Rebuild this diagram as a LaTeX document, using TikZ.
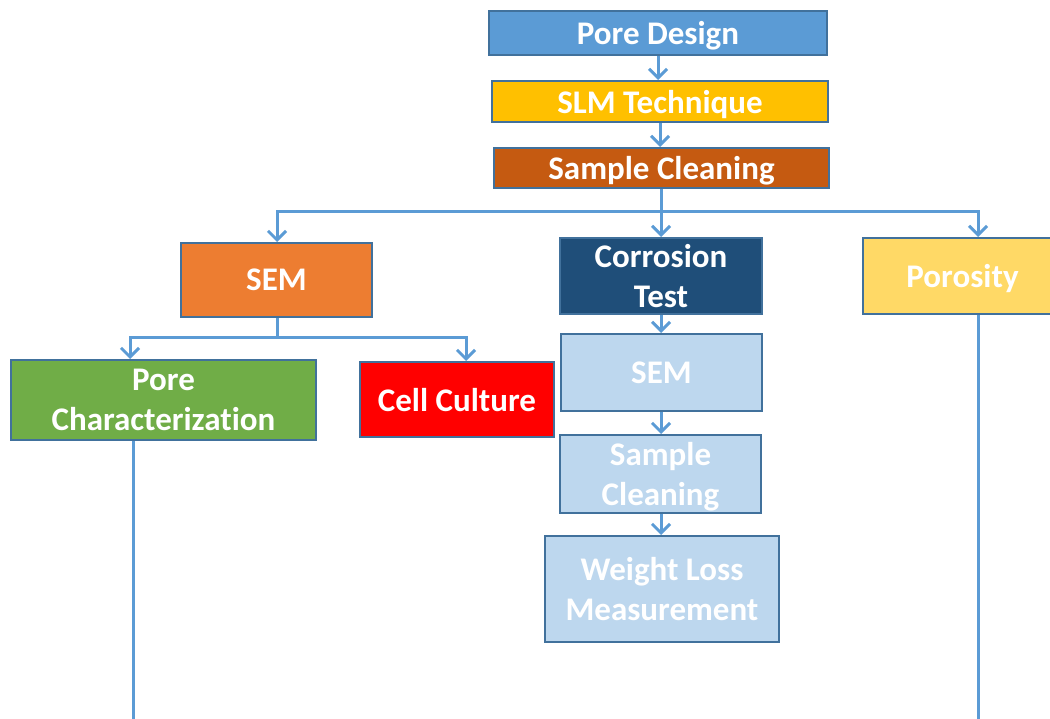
\documentclass[tikz,border=0pt]{standalone}
\usepackage{fontspec}
\setmainfont{Carlito}[Ligatures=NoCommon]
\usetikzlibrary{arrows.meta}
\definecolor{lnblue}{HTML}{5B9BD5}
\definecolor{bdblue}{HTML}{41719C}
\definecolor{cpd}{HTML}{5B9BD5}
\definecolor{cslm}{HTML}{FFC000}
\definecolor{csc}{HTML}{C55A11}
\definecolor{csem}{HTML}{ED7D31}
\definecolor{cct}{HTML}{1F4E79}
\definecolor{cpor}{HTML}{FFD966}
\definecolor{cpc}{HTML}{70AD47}
\definecolor{ccc}{HTML}{FF0000}
\definecolor{clb}{HTML}{BDD7EE}
\tikzset{
  box/.style={draw=bdblue, line width=2pt, text=white, align=center,
    font=\fontsize{33}{40}\selectfont\bfseries, inner sep=0pt},
  one/.style={text depth=0pt},
  conn/.style={draw=lnblue, line width=3pt},
  arr/.style={conn, -{Straight Barb[length=9pt,width=18pt,line width=3pt]}}
}
\begin{document}
\begin{tikzpicture}[x=1pt,y=-1pt]
\useasboundingbox (0,0) rectangle (1050,719);
\node[box, one, fill=cpd, minimum width=338pt, minimum height=44pt] (pd) at (658,33) {Pore Design};
\node[box, one, fill=cslm, minimum width=336pt, minimum height=41pt] (slm) at (660,101.5) {SLM Technique};
\node[box, one, fill=csc, minimum width=335pt, minimum height=40pt] (sc) at (661.5,168) {Sample Cleaning};
\node[box, one, fill=csem, minimum width=191pt, minimum height=74pt] (sem) at (276.5,280) {SEM};
\node[box, fill=cct, minimum width=202pt, minimum height=76pt] (ct) at (661,276) {Corrosion\\Test};
\node[box, one, fill=cpor, minimum width=199pt, minimum height=76pt] (por) at (962.5,276) {Porosity};
\node[box, fill=cpc, minimum width=305pt, minimum height=80pt] (pc) at (163.5,400) {Pore\\Characterization};
\node[box, one, fill=ccc, minimum width=194pt, minimum height=75pt] (cc) at (457,399.5) {Cell Culture};
\node[box, one, fill=clb, minimum width=201pt, minimum height=77pt] (sem2) at (661.5,372.5) {SEM};
\node[box, one, fill=clb, minimum width=201pt, minimum height=78pt] (sc2) at (660.5,474) {Sample\\Cleaning};
\node[box, fill=clb, minimum width=234pt, minimum height=106pt] (wl) at (662,589) {Weight Loss\\Measurement};
% top chain
\draw[arr] (pd.south) -- (pd.south |- slm.north);
\draw[arr] (slm.south) -- (slm.south |- sc.north);
% first branching
\coordinate (br) at (661,212);
\draw[arr] (sc.south -| br) -- (ct.north);
\draw[conn] (br) -- (277,212);
\draw[arr] (br) -| ([xshift=0.5pt]sem.north);
\draw[arr] (br) -| ([xshift=15.5pt]por.north);
% second branching
\coordinate (sb) at (277,338);
\draw[conn] ([xshift=0.5pt]sem.south) -- (sb);
\draw[arr] (sb) -| ([xshift=-33.5pt]pc.north);
\draw[arr] (sb) -| ([xshift=9pt]cc.north);
% corrosion chain
\draw[arr] (ct.south) -- (ct.south |- sem2.north);
\draw[arr] (sem2.south -| ct.south) -- (ct.south |- sc2.north);
\draw[arr] (sc2.south -| ct.south) -- (ct.south |- wl.north);
% long lines to bottom
\coordinate (pcend) at (133,719);
\coordinate (porend) at (978,719);
\draw[conn] (pc.south -| pcend) -- (pcend);
\draw[conn] (por.south -| porend) -- (porend);
\end{tikzpicture}
\end{document}
